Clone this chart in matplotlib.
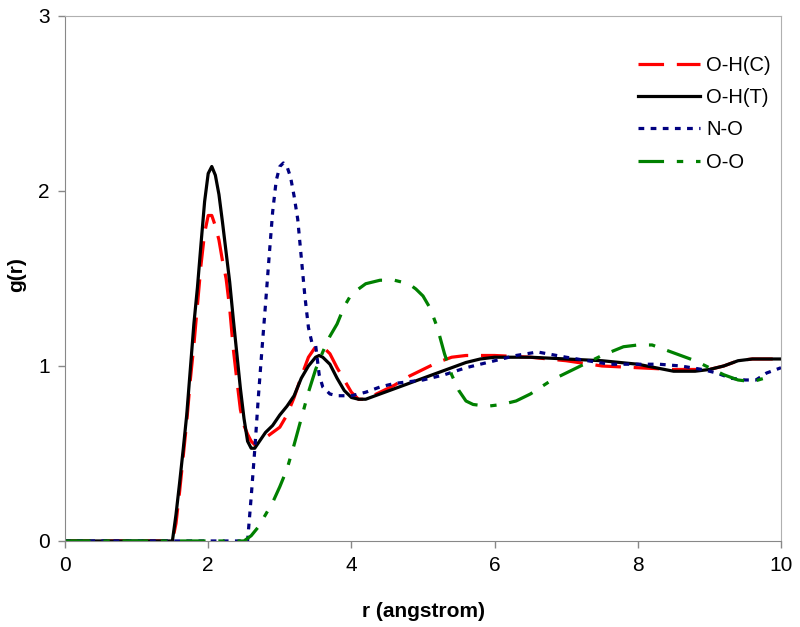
import matplotlib
matplotlib.use("Agg")
import matplotlib.pyplot as plt

plt.rcParams['font.family'] = ['Liberation Sans', 'DejaVu Sans']

# O-H(C), red dashed
r_ohc = [0, 1.5, 1.55, 1.6, 1.65, 1.7, 1.75, 1.8, 1.85, 1.9, 1.95, 2.0, 2.05, 2.1, 2.15, 2.2,
         2.25, 2.3, 2.35, 2.4, 2.45, 2.5, 2.55, 2.6, 2.65, 2.7, 2.8, 2.9, 3.0, 3.1, 3.2, 3.3,
         3.4, 3.5, 3.6, 3.7, 3.8, 3.9, 4.0, 4.1, 4.2, 4.4, 4.6, 4.8, 5.0, 5.2, 5.4, 5.6, 6.0,
         6.5, 7.0, 7.5, 8.0, 8.5, 8.8, 9.0, 9.2, 9.4, 9.6, 10.0]
g_ohc = [0, 0, 0.10, 0.28, 0.48, 0.68, 0.92, 1.12, 1.35, 1.58, 1.76, 1.86, 1.86, 1.80, 1.72, 1.60,
         1.50, 1.33, 1.10, 0.92, 0.75, 0.66, 0.61, 0.57, 0.55, 0.56, 0.59, 0.62, 0.65, 0.72, 0.82, 0.94,
         1.05, 1.11, 1.11, 1.07, 0.99, 0.92, 0.85, 0.81, 0.81, 0.85, 0.89, 0.94, 0.98, 1.02, 1.05, 1.06, 1.06,
         1.05, 1.03, 1.00, 0.99, 0.98, 0.98, 0.98, 1.00, 1.03, 1.04, 1.04]

# O-H(T), black solid
r_oht = [0, 1.5, 1.55, 1.6, 1.65, 1.7, 1.75, 1.8, 1.85, 1.9, 1.95, 2.0, 2.05, 2.1, 2.15, 2.2,
         2.25, 2.3, 2.35, 2.4, 2.45, 2.5, 2.55, 2.6, 2.65, 2.7, 2.8, 2.9, 3.0, 3.1, 3.2, 3.3,
         3.4, 3.5, 3.55, 3.6, 3.7, 3.8, 3.9, 4.0, 4.1, 4.2, 4.4, 4.6, 4.8, 5.0, 5.2, 5.4, 5.6,
         5.8, 6.0, 6.5, 7.0, 7.5, 8.0, 8.5, 8.8, 9.0, 9.2, 9.4, 9.6, 9.8, 10.0]
g_oht = [0, 0, 0.15, 0.33, 0.52, 0.72, 0.98, 1.24, 1.45, 1.70, 1.94, 2.10, 2.14, 2.09, 1.98, 1.82,
         1.65, 1.48, 1.27, 1.07, 0.87, 0.70, 0.57, 0.53, 0.53, 0.56, 0.62, 0.66, 0.72, 0.77, 0.83, 0.93,
         1.00, 1.05, 1.06, 1.05, 1.01, 0.93, 0.86, 0.82, 0.81, 0.81, 0.84, 0.87, 0.90, 0.93, 0.96, 0.99, 1.02,
         1.04, 1.05, 1.05, 1.04, 1.03, 1.01, 0.97, 0.97, 0.98, 1.00, 1.03, 1.04, 1.04, 1.04]

# N-O, navy dotted
r_no = [0, 2.55, 2.6, 2.65, 2.7, 2.75, 2.8, 2.85, 2.9, 2.95, 3.0, 3.05, 3.1, 3.15, 3.2, 3.25,
        3.3, 3.35, 3.4, 3.45, 3.5, 3.55, 3.6, 3.7, 3.8, 4.0, 4.2, 4.4, 4.6, 4.8, 5.0, 5.3, 5.6,
        5.8, 6.0, 6.3, 6.6, 7.0, 7.3, 7.6, 8.0, 8.3, 8.6, 8.9, 9.1, 9.3, 9.5, 9.65, 9.8, 10.0]
g_no = [0, 0, 0.25, 0.52, 0.82, 1.09, 1.35, 1.62, 1.88, 2.06, 2.14, 2.16, 2.14, 2.08, 1.97, 1.84,
        1.62, 1.40, 1.22, 1.13, 1.12, 0.95, 0.88, 0.84, 0.83, 0.83, 0.85, 0.88, 0.90, 0.91, 0.92, 0.95, 0.99,
        1.01, 1.03, 1.06, 1.08, 1.05, 1.03, 1.01, 1.01, 1.01, 1.00, 0.98, 0.96, 0.93, 0.92, 0.92, 0.96, 0.99]

# O-O, green dash-dot
r_oo = [0, 2.5, 2.6, 2.7, 2.8, 2.9, 3.0, 3.1, 3.2, 3.3, 3.4, 3.5, 3.6, 3.7, 3.8, 3.9, 4.0,
        4.2, 4.4, 4.6, 4.8, 4.9, 5.0, 5.1, 5.2, 5.3, 5.4, 5.5, 5.6, 5.7, 5.9, 6.1, 6.3, 6.5,
        6.8, 7.0, 7.3, 7.5, 7.8, 8.0, 8.2, 8.4, 8.6, 8.8, 9.0, 9.2, 9.4, 9.6, 9.85]
g_oo = [0, 0, 0.03, 0.08, 0.15, 0.22, 0.31, 0.41, 0.55, 0.70, 0.85, 0.98, 1.08, 1.17, 1.24, 1.34, 1.41,
        1.47, 1.49, 1.49, 1.47, 1.44, 1.40, 1.33, 1.22, 1.07, 0.95, 0.86, 0.80, 0.78, 0.77, 0.78, 0.80, 0.84,
        0.92, 0.96, 1.02, 1.06, 1.11, 1.12, 1.12, 1.09, 1.06, 1.03, 0.99, 0.95, 0.92, 0.91, 0.94]

x_ticks = [0, 2, 4, 6, 8, 10]
y_ticks = [0, 1, 2, 3]

fig = plt.figure(figsize=(8, 6.27), dpi=100)
ax = fig.add_axes([0.08125, 0.1372, 0.895, 0.8373])

lw = 2.3
ax.plot(r_ohc, g_ohc, color='#FF0000', lw=lw, dashes=(8, 4), label='O-H(C)')
ax.plot(r_oht, g_oht, color='black', lw=lw, label='O-H(T)')
ax.plot(r_no, g_no, color='#000080', lw=lw, dashes=(1.8, 2), label='N-O')
ax.plot(r_oo, g_oo, color='#008000', lw=lw, dashes=(8, 4, 2, 4), label='O-O')

ax.set_xlim(0, 10)
ax.set_ylim(0, 3)
ax.set_xticks(x_ticks)
ax.set_yticks(y_ticks)
ax.tick_params(axis='both', labelsize=15, length=5, width=1, color='#888888', pad=6)

for side in ['left', 'bottom']:
    ax.spines[side].set_color('#888888')
for side in ['top', 'right']:
    ax.spines[side].set_color('#b0b0b0')

ax.set_xlabel('r (angstrom)', fontsize=15, fontweight='bold', va='center')
ax.xaxis.set_label_coords(0.5, -0.135)
ax.set_ylabel('g(r)', fontsize=15, fontweight='bold', va='center')
ax.yaxis.set_label_coords(-0.067, 0.508)

ax.legend(loc='upper left', bbox_to_anchor=(0.797, 0.911), bbox_transform=fig.transFigure,
          frameon=False, fontsize=14.5, handlelength=3.1, handletextpad=0.3,
          labelspacing=0.66, borderpad=0, borderaxespad=0)

fig.savefig('out.png', dpi=100)
